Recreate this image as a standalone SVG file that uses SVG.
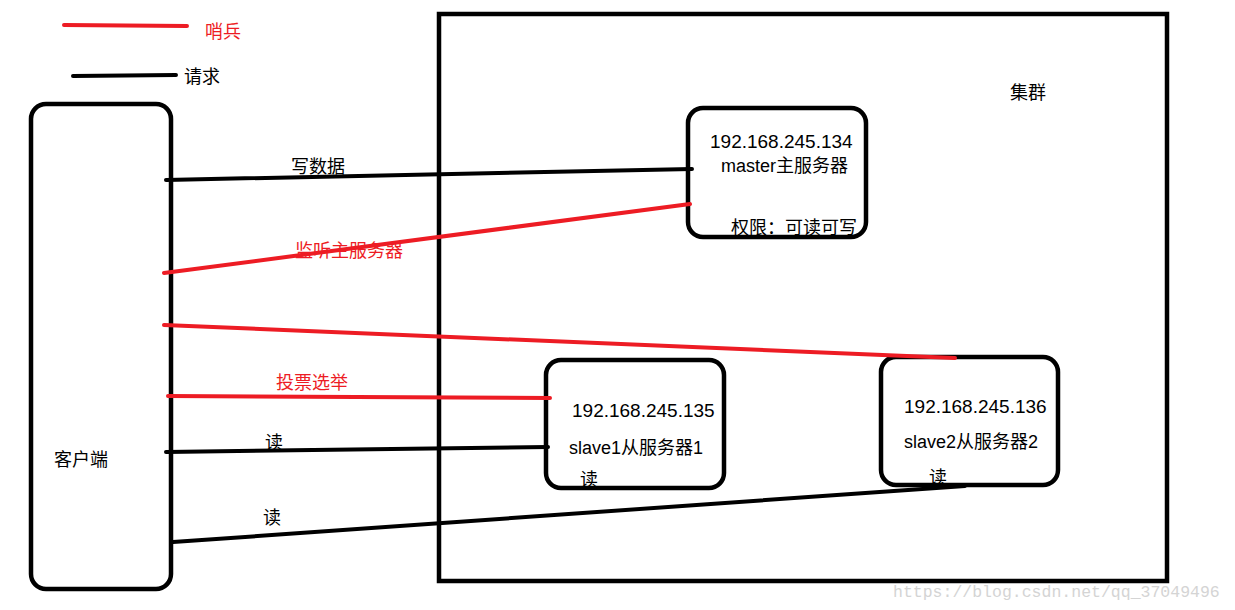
<svg xmlns="http://www.w3.org/2000/svg" width="1235" height="610" viewBox="0 0 1235 610">
<style>
.box{fill:none;stroke:#000;stroke-width:4.5}
.blk{stroke:#000;stroke-width:4;stroke-linecap:round;fill:none}
.red{stroke:#ed1c24;stroke-width:4;stroke-linecap:round;fill:none}
.t{font-family:"Segoe UI","Liberation Sans","Noto Sans CJK SC",sans-serif;font-size:18px;fill:#000}
.ip{font-size:19px}
.tr{font-family:"Liberation Sans","Noto Sans CJK SC",sans-serif;font-size:18px;fill:#ed1c24}
.wm{font-family:"Liberation Mono","DejaVu Sans Mono",monospace;font-size:16.5px;fill:#d4d4d4}
</style>
<rect width="1235" height="610" fill="#fff"/>
<g id="legend">
<line class="red" x1="64" y1="25" x2="187" y2="26"/>
<text class="tr" x="205" y="38">哨兵</text>
<line class="blk" x1="73" y1="76" x2="176" y2="75"/>
<text class="t" x="184" y="83">请求</text>
</g>
<g id="cluster">
<rect class="box" x="439" y="14" width="728" height="567"/>
<text class="t" x="1010" y="99">集群</text>
</g>
<g id="client">
<rect class="box" x="31" y="104" width="140" height="485" rx="15"/>
<text class="t" x="54" y="466">客户端</text>
</g>
<g id="master">
<rect class="box" x="688" y="108" width="178" height="129" rx="15"/>
<text class="t ip" x="710" y="148">192.168.245.134</text>
<text class="t" x="721" y="172">master主服务器</text>
<text class="t" x="731" y="234">权限：可读可写</text>
</g>
<g id="slave1">
<rect class="box" x="546" y="360" width="178" height="128" rx="15"/>
<text class="t ip" x="572" y="417">192.168.245.135</text>
<text class="t" x="569" y="454">slave1从服务器1</text>
<text class="t" x="580" y="486">读</text>
</g>
<g id="slave2">
<rect class="box" x="881" y="357" width="177" height="128" rx="15"/>
<text class="t ip" x="904" y="413">192.168.245.136</text>
<text class="t" x="904" y="448">slave2从服务器2</text>
<text class="t" x="929" y="484">读</text>
</g>
<g id="connectors">
<line class="blk" x1="166" y1="180" x2="692" y2="169"/>
<text class="t" x="291" y="173">写数据</text>
<line class="red" x1="164" y1="273" x2="690" y2="204"/>
<text class="tr" x="295" y="257">监听主服务器</text>
<line class="red" x1="164" y1="325" x2="955" y2="358"/>
<line class="red" x1="168" y1="396" x2="550" y2="398"/>
<text class="tr" x="276" y="389">投票选举</text>
<line class="blk" x1="166" y1="452" x2="548" y2="447"/>
<text class="t" x="265" y="449">读</text>
<line class="blk" x1="173" y1="542" x2="965" y2="486"/>
<text class="t" x="263" y="524">读</text>
</g>
<text class="wm" x="893" y="597">https://blog.csdn.net/qq_37049496</text>
</svg>
